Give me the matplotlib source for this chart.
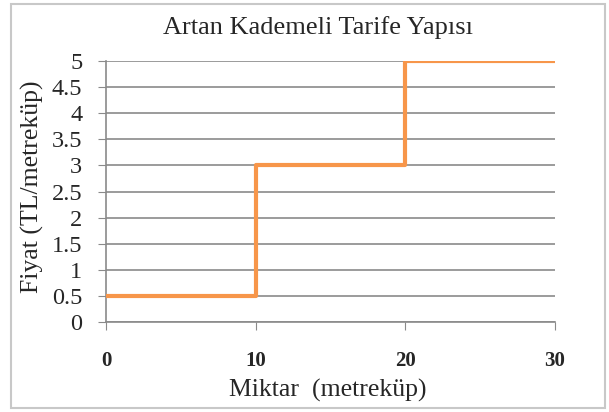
import matplotlib.pyplot as plt
from matplotlib.patches import Rectangle

# step breakpoints of the tariff (x = quantity, y = price)
miktar = [0, 10, 20, 30]
fiyat = [0.5, 3, 5, 5]
y_ticks = [0, 0.5, 1, 1.5, 2, 2.5, 3, 3.5, 4, 4.5, 5]
y_tick_labels = ["0", "0.5", "1", "1.5", "2", "2.5", "3", "3.5", "4", "4.5", "5"]
x_ticks = [0, 10, 20, 30]

SERIF = "Liberation Serif"
TEXT = "#262626"
GRID = "#8a8a8a"

fig = plt.figure(figsize=(6.09, 4.12), dpi=100)
ax = fig.add_axes([106 / 609, 1 - 322 / 412, (555 - 106) / 609, (322 - 61) / 412])

# outer chart border
fig.patches.append(
    Rectangle((11 / 609, 4 / 412), 594 / 609, 404 / 412, transform=fig.transFigure,
              fill=False, edgecolor="#c8c8c8", linewidth=1.5)
)

for y in y_ticks:
    ax.axhline(y, color=GRID, linewidth=1.2, zorder=1)

ax.step(miktar, fiyat, where="post", color="#f7964a", linewidth=3, zorder=3)

ax.set_xlim(0, 30)
ax.set_ylim(0, 5)
ax.set_yticks(y_ticks)
ax.set_yticklabels(y_tick_labels, fontfamily=SERIF, fontsize=17.5)
ax.set_xticks(x_ticks)
ax.set_xticklabels([str(t) for t in x_ticks], fontfamily=SERIF,
                   fontweight="bold", fontsize=15)

for side in ("top", "right"):
    ax.spines[side].set_visible(False)
for side in ("left", "bottom"):
    ax.spines[side].set_color(GRID)
    ax.spines[side].set_linewidth(1.2)
ax.tick_params(axis="y", length=6, color=GRID, pad=11, labelcolor=TEXT)
ax.tick_params(axis="x", length=6, color=GRID, pad=15, labelcolor=TEXT)

fig.text(318 / 609, 1 - 28 / 412, "Artan Kademeli Tarife Yapısı", ha="center",
         va="center", fontfamily=SERIF, fontsize=19, color=TEXT)
fig.text(328 / 609, 1 - 390 / 412, "Miktar  (metreküp)", ha="center",
         va="center", fontfamily=SERIF, fontsize=18.5, color=TEXT)
fig.text(32 / 609, 1 - 187 / 412, "Fiyat (TL/metreküp)", ha="center",
         va="center", rotation=90, fontfamily=SERIF, fontsize=18.5, color=TEXT)

fig.savefig("out.png", dpi=100)
